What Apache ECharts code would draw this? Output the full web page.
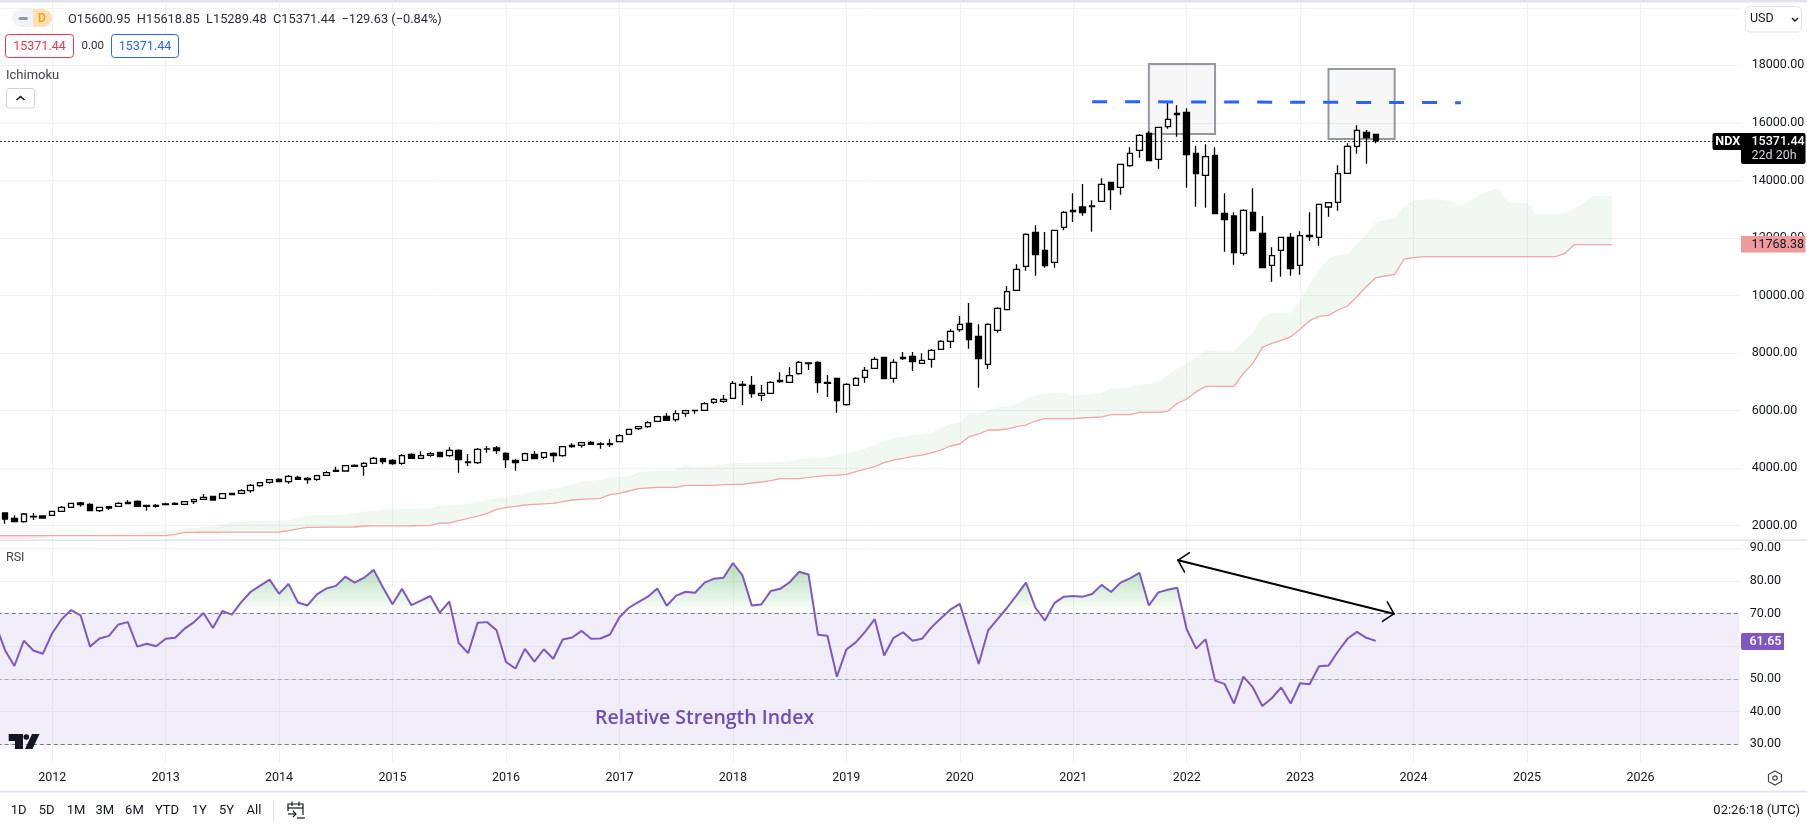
<!DOCTYPE html>
<html>
<head>
<meta charset="utf-8">
<style>html,body{margin:0;padding:0;background:#fff;overflow:hidden}#c{width:1807px;height:830px}</style>
<script src="https://cdn.jsdelivr.net/npm/echarts@6/dist/echarts.min.js"></script>
</head>
<body>
<div id="c"></div>
<script>
// Monthly bars, first bar Jul 2011 (just off the left edge), last bar Sep 2023
const candleOpen = [2330,
2441,2256,2140,2310,2337,2360,2499,2638,2789,2743,
2522,2661,2673,2812,2847,2708,2708,2754,2777,2743,
2835,2916,3021,2951,3125,3125,3217,3391,3507,3611,
3530,3681,3646,3611,3750,3924,3901,4098,4063,4167,
4329,4272,4167,4480,4341,4445,4550,4434,4619,4214,
4191,4660,4700,4515,4272,4272,4480,4376,4515,4434,
4793,4793,4897,4830,4851,4920,5175,5372,5441,5627,
5800,5685,5905,6000,6009,6287,6322,6426,6913,6878,
6530,6600,7052,6982,7283,7631,7677,6982,7121,6206,
6878,7156,7469,7851,7121,7851,7886,7642,7781,8129,
8407,8812,9032,8581,7608,8789,9507,10180,11014,12195,
11570,11153,12369,12960,13075,13087,13272,13933,13759,14512,
15045,15636,14732,15867,16331,16365,14941,14176,14871,12855,
12763,11465,12890,12160,11048,11570,12021,11048,12091,12021,
13075,13238,14245,15184,15670,15600.95];
const candleClose = [2441,
2233,2140,2407,2320,2268,2499,2638,2777,2731,2522,
2638,2615,2777,2766,2673,2673,2673,2731,2743,2835,
2905,2986,2893,3113,3078,3217,3403,3495,3600,3530,
3715,3611,3600,3739,3843,3889,4086,4063,4167,4341,
4225,4156,4434,4341,4434,4503,4399,4619,4295,4191,
4654,4670,4607,4295,4191,4503,4329,4538,4434,4747,
4747,4886,4828,4840,4816,5129,5349,5441,5580,5789,
5661,5893,5998,6009,6241,6391,6391,6947,6878,6588,
6600,6982,7005,7214,7677,7654,6970,6947,6345,6913,
7121,7399,7781,7110,7677,7805,7700,7747,8094,8407,
8754,8998,8465,7805,8998,9554,10133,10909,12126,11419,
11037,12265,12890,12913,12879,13110,13863,13678,14558,14941,
15566,14686,15844,16122,16284,14894,14234,14825,12844,12635,
11489,12960,12253,10967,11384,12021,10932,12079,12045,13168,
13226,14234,15184,15740,15485,15371.44];
const candleLow = [2300,
2071,2140,2105,2198,2244,2360,2499,2627,2661,2511,
2476,2546,2661,2766,2661,2522,2627,2719,2731,2731,
2754,2916,2870,2951,3078,3113,3148,3357,3461,3507,
3461,3600,3461,3565,3739,3878,3889,4052,3739,4156,
4133,4121,4121,4329,4329,4399,4387,4399,3843,4075,
4144,4538,4492,4005,3913,4260,4318,4318,4214,4399,
4712,4712,4805,4677,4735,4897,5175,5326,5407,5615,
5650,5615,5789,5893,5998,6241,6275,6414,6194,6449,
6333,6588,6970,6970,7249,7411,6623,6472,5928,6171,
6866,6970,7457,7098,6970,7758,7376,7631,7492,8117,
8175,8743,8152,6797,7445,8708,9496,10170,10863,10689,
10967,10967,12265,12554,12774,12218,13261,12971,13504,14477,
14790,14674,14408,15798,15520,13747,13087,13052,12844,11523,
11071,11384,12241,10967,10481,10654,10689,10724,11894,11732,
12740,12948,14234,14929,14581,15289.48];
const candleHigh = [2470,
2441,2360,2441,2441,2360,2499,2685,2800,2823,2777,
2650,2685,2812,2881,2881,2708,2754,2800,2812,2847,
2939,3102,3044,3125,3148,3264,3449,3519,3623,3646,
3762,3739,3692,3773,3889,4052,4109,4133,4202,4387,
4364,4306,4492,4515,4584,4561,4573,4723,4654,4492,
4700,4770,4770,4550,4306,4538,4596,4561,4550,4770,
4862,4897,4943,4897,5001,5187,5372,5453,5627,5824,
5916,6009,6021,6009,6287,6426,6542,7028,7028,7202,
6889,7017,7330,7515,7723,7677,7712,7237,7133,6947,
7156,7515,7862,7862,7781,8036,8036,7990,8140,8442,
8824,9287,9739,8998,9032,9589,10330,11083,12160,12438,
12207,12276,12925,13550,13875,13307,14072,13944,14558,15149,
15612,15705,15844,16759,16609,16505,15195,15253,15149,13550,
12890,12994,13724,12763,11674,12033,12172,12230,12890,13168,
13226,14524,15288,15914,15752,15618.85];
// Ichimoku cloud boundaries (run 25 bars past the last candle)
const spanA = [1525,
1530,1530,1535,1550,1590,1655,1670,1680,1688,1695,
1700,1705,1715,1725,1735,1760,1800,1827,1860,1897,
1920,1945,1966,2050,2128,2140,2152,2160,2170,2178,
2186,2270,2360,2365,2370,2372,2400,2441,2488,2530,
2569,2575,2585,2590,2597,2603,2696,2710,2730,2754,
2820,2893,2950,3009,3070,3125,3180,3241,3290,3333,
3430,3530,3560,3588,3680,3690,3727,3855,3878,3912,
3912,3947,4109,4051,4075,4086,4133,4179,4190,4202,
4202,4202,4214,4237,4306,4341,4364,4376,4468,4515,
4596,4677,4793,4943,5036,5094,5152,5180,5210,5407,
5534,5592,5905,5905,6009,6114,6137,6229,6403,6542,
6588,6600,6611,6519,6542,6577,6623,6762,6774,6808,
6913,6913,6994,7237,7469,7642,7874,8106,8060,8060,
8060,8395,8720,9264,9403,9403,9403,9820,10400,10886,
11292,11407,11442,11790,12102,12554,12624,12682,13110,13307,
13319,13342,13330,13272,13122,13319,13516,13632,13724,13238,
13226,13203,12844,12844,12844,12844,13018,13226,13458,13458,13458];
const spanB = [1653,
1653,1653,1653,1653,1653,1653,1653,1653,1653,1653,
1653,1653,1653,1653,1653,1653,1653,1653,1700,1769,
1770,1772,1773,1775,1776,1777,1778,1779,1780,1781,
1830,1890,1943,1945,1948,1950,1952,1955,1990,1992,
1994,1996,1997,1998,2000,2001,2094,2094,2175,2255,
2335,2418,2569,2627,2673,2719,2740,2760,2777,2835,
2893,2915,2935,2951,3078,3125,3206,3287,3310,3333,
3333,3333,3403,3403,3403,3403,3426,3437,3437,3484,
3519,3565,3634,3634,3634,3681,3715,3750,3750,3785,
3878,3970,4051,4190,4283,4341,4411,4450,4530,4630,
4770,4839,5094,5187,5326,5326,5360,5441,5499,5638,
5720,5720,5720,5720,5743,5766,5778,5858,5858,5858,
5940,5940,5940,5974,6252,6403,6658,6843,6843,6843,
6843,7295,7642,8198,8338,8442,8569,8824,9125,9276,
9311,9496,9635,9959,10307,10619,10678,10736,11268,11315,
11349,11349,11349,11349,11349,11349,11349,11349,11349,11349,
11349,11349,11349,11349,11349,11465,11768.38,11768.38,11768.38,11768.38,11768.38];
const rsiValues = [66.8,
58.9,54.0,61.7,58.7,57.7,64.0,68.3,71.1,69.5,59.9,
62.4,63.2,66.7,67.4,59.9,60.8,60.0,62.3,62.6,65.4,
67.4,70.2,65.6,70.8,69.7,73.5,76.7,78.6,80.4,76.1,
79.1,73.4,72.5,75.9,77.7,78.5,81.3,79.5,81.0,83.4,
77.9,72.9,77.6,72.6,74.0,75.4,70.3,73.7,61.0,57.9,
67.2,67.4,64.9,55.2,53.2,59.2,55.3,59.1,56.2,62.1,
62.7,64.7,62.3,62.4,63.6,68.9,71.8,73.5,75.2,77.7,
72.4,75.5,76.7,76.4,79.5,80.7,81.0,85.5,81.8,72.5,
72.8,76.9,77.6,79.6,82.8,82.0,63.5,63.2,50.7,59.0,
61.2,64.5,68.3,57.2,62.6,64.3,61.7,62.3,65.8,68.6,
71.2,73.0,63.6,54.6,64.9,68.3,71.8,75.6,79.5,71.8,
67.9,73.2,75.2,75.4,75.2,76.0,78.8,76.6,79.5,80.8,
82.5,72.5,76.5,77.3,77.9,65.2,59.3,62.2,49.5,48.5,
42.5,50.7,47.4,41.7,44.1,47.4,42.5,48.7,48.4,53.9,
54.1,58.4,62.3,64.4,62.6,61.65];
const priceTicks = {min:0,max:20000,step:2000};
const rsiTicks = {min:30,max:90,step:10};
const lastClose = 15371.44;
const lastRsi = 61.65;

// Category axis: Jul 2011 .. Nov 2026
const months = [];
for (let k = 0; k < 185; k++) {
  const t = 2011*12 + 6 + k;
  months.push(Math.floor(t/12) + '-' + String(t%12+1).padStart(2,'0'));
}
const isJan = (i, v) => String(v).endsWith('-01');
const candles = candleOpen.map((o,i)=>[o,candleClose[i],candleLow[i],candleHigh[i]]);
const n = spanA.length;
const greenBase=[],greenDiff=[],pinkBase=[],pinkDiff=[];
for (let i=0;i<n;i++){
  const up = spanA[i]>=spanB[i];
  greenBase.push(up?spanB[i]:null); greenDiff.push(up?spanA[i]-spanB[i]:null);
  const dn = i<=6;
  pinkBase.push(dn?Math.min(spanA[i],spanB[i]):null); pinkDiff.push(dn?Math.abs(spanB[i]-spanA[i]):null);
}
const FONT='Roboto, sans-serif';
const TXT='#131722';
const chevron='path://M10.5 10.5 L21 20.4 L20 21.5 L10.5 12.6 L1 21.5 L0 20.4 Z M10.5 0 L10.6 0 L10.5 0.1 Z';
const gridLine='#f0f1f5';
const cl = months;
const GL=-9.25, GW=1749;
function hiddenX(g){return {type:'category',gridIndex:g,data:cl,show:false,boundaryGap:true};}

const txt=(x,y,text,o={})=>({type:'text',x,y,z:o.z||120,silent:true,style:Object.assign({text,font:(o.w||'400')+' '+(o.s||12)+'px '+(o.f||FONT),fill:o.c||TXT,align:o.a||'left',verticalAlign:'middle'},{})});
const rect=(x,y,w,h,o={})=>({type:'rect',z:o.z||110,silent:true,shape:{x,y,width:w,height:h,r:o.r||0},style:{fill:o.fill||'#fff',stroke:o.stroke||null,lineWidth:o.lw||1}});
const poly=(pts,c,lw,z)=>({type:'polyline',z:z||120,silent:true,shape:{points:pts},style:{stroke:c,lineWidth:lw,fill:null}});

const graphics=[
 rect(0,0,1807,2.5,{fill:'#e0e3eb',z:90}),
 rect(0,539.5,1807,1.6,{fill:'#e0e3eb',z:90}),
 rect(0,790.8,1807,1.6,{fill:'#e0e3eb',z:90}),
 // legend pill
 rect(12,9,21,18,{fill:'#f0f3fa',r:[9,0,0,9]}),
 rect(33,9,19,18,{fill:'#ffe0b2',r:[0,9,9,0]}),
 rect(18.5,17,9.5,3,{fill:'#9598a1',r:1.5}),
 txt(42,18.5,'D',{c:'#ff9800',a:'center',s:12,w:'500'}),
 txt(68,19.5,'O15600.95  H15618.85  L15289.48  C15371.44  \u2212129.63 (\u22120.84%)',{s:12.8,c:'#2a2e39'}),
 rect(5.5,34.5,68,23,{fill:'#fff',stroke:'#f23645',r:3}),
 txt(39.5,46.5,'15371.44',{a:'center',c:'#f23645',s:12.5}),
 txt(81.5,46,'0.00',{s:11.5,c:'#2a2e39'}),
 rect(111.5,34.5,67,23,{fill:'#fff',stroke:'#2962ff',r:3}),
 txt(145,46.5,'15371.44',{a:'center',c:'#2962ff',s:12.5}),
 txt(6,76,'Ichimoku',{s:13,c:'#434651'}),
 rect(6.5,88.5,28,19.5,{fill:'#fff',stroke:'#d1d4dc',r:2.5}),
 poly([[16.5,100],[20.5,96.5],[24.5,100]],'#131722',1.6),
 // currency selector
 rect(1745.5,6.5,56,25.5,{fill:'#fff',stroke:'#e0e3eb',r:5}),
 txt(1750,19,'USD',{s:12.5}),
 poly([[1792,18],[1795,21],[1798,18]],'#131722',1.4),
 // last price labels
 rect(1712.5,133,30.5,17,{fill:'#000',r:[2,0,0,2]}),
 txt(1727.7,141.8,'NDX',{a:'center',c:'#fff',w:'700',s:12.5}),
 rect(1741,133,64.5,31,{fill:'#000',r:2}),
 txt(1751.5,142,'15371.44',{c:'#fff',w:'500',s:12.5}),
 txt(1751.5,156,'22d 20h',{c:'#d1d4dc',s:12.5}),
 rect(1741,236,64.5,16.5,{fill:'#ef9a9a'}),
 txt(1751.5,244.5,'11768.38',{c:'#131722',s:12.5}),
 rect(1741,633,43,17,{fill:'#7e57c2',r:[2,0,0,2]}),
 txt(1749.5,641.7,'61.65',{c:'#fff',w:'500',s:12.5}),
 // pane titles and captions
 txt(6,558,'RSI',{s:12.5,c:'#434651'}),
 txt(595,718,'Relative Strength Index',{s:19.5,w:'600',c:'#6f4bbd',f:'"Open Sans", sans-serif'}),
 // watermark logo
 {type:'polygon',z:120,silent:true,shape:{points:[[8.7,734],[23,734],[23,749],[15,749],[15,741],[8.7,741]]},style:{fill:'#131722'}},
 {type:'circle',z:120,silent:true,shape:{cx:26.3,cy:737,r:2.8},style:{fill:'#131722'}},
 {type:'polygon',z:120,silent:true,shape:{points:[[32,734],[39.5,734],[32.5,749],[25,749]]},style:{fill:'#131722'}},
 // range buttons
 ...[['1D',18.6],['5D',46.7],['1M',76],['3M',104.8],['6M',134.4],['YTD',167],['1Y',199.3],['5Y',226.6],['All',254]]
   .map(([t,x])=>txt(x,811,t,{a:'center',s:13})),
 rect(273,800,1,22,{fill:'#e0e3eb'}),
 // calendar icon
 poly([[303,815],[303,804],[288,804],[288,811]],'#131722',1.2),
 poly([[288,808],[303,808]],'#131722',1.2),
 poly([[292,801.5],[292,806]],'#131722',1.2),
 poly([[299,801.5],[299,806]],'#131722',1.2),
 poly([[305,818],[297,818]],'#131722',1.2),
 poly([[288,814],[296,814]],'#131722',1.2),
 poly([[293,811],[296,814],[293,817]],'#131722',1.2),
 txt(1800,811,'02:26:18 (UTC)',{a:'right',s:13}),
 // settings icon
 {type:'polygon',z:120,silent:true,shape:{points:[[1775,771],[1781.5,774.5],[1781.5,781.5],[1775,785],[1768.5,781.5],[1768.5,774.5]]},style:{fill:'#fff',stroke:'#434651',lineWidth:1.2}},
 {type:'circle',z:120,silent:true,shape:{cx:1775,cy:778,r:2.2},style:{fill:'#fff',stroke:'#434651',lineWidth:1.2}}
];

const option={
 animation:false,
 backgroundColor:'#fff',
 grid:[
  {left:GL,width:GW,top:2,height:761,containLabel:false,outerBoundsMode:'none'},
  {left:GL,width:GW,top:7.75,height:575.5,outerBoundsMode:'none'},
  {left:GL,width:GW,top:548.3,height:196,outerBoundsMode:'none'},
  {left:GL,width:GW,top:548.3,height:65.33,outerBoundsMode:'none'}
 ],
 xAxis:[
  {type:'category',gridIndex:0,data:cl,boundaryGap:true,
   axisLine:{show:false},axisTick:{show:false},
   axisLabel:{interval:isJan,formatter:v=>v.slice(0,4),color:TXT,fontFamily:FONT,fontSize:12.5,margin:8,hideOverlap:false},
   splitLine:{show:true,interval:isJan,alignWithLabel:true,lineStyle:{color:gridLine,width:1}}},
  hiddenX(1),hiddenX(2),hiddenX(3)
 ],
 yAxis:[
  {type:'value',gridIndex:0,show:false,min:0,max:1,splitLine:{show:false}},
  {type:'value',gridIndex:1,position:'right',min:priceTicks.min,max:priceTicks.max,interval:priceTicks.step,
   axisLine:{show:false},axisTick:{show:false},
   axisLabel:{show:true,margin:12,padding:[3,0,0,0],color:TXT,fontFamily:FONT,fontSize:12.5,formatter:v=>v.toFixed(2),showMinLabel:false,showMaxLabel:false},
   splitLine:{show:true,showMinLine:false,lineStyle:{color:gridLine,width:1}}},
  {type:'value',gridIndex:2,position:'right',min:rsiTicks.min,max:rsiTicks.max,interval:rsiTicks.step,
   axisLine:{show:false},axisTick:{show:false},
   axisLabel:{show:true,margin:10,padding:[3,0,0,0],color:TXT,fontFamily:FONT,fontSize:12.5,formatter:v=>v.toFixed(2)},
   splitLine:{show:true,lineStyle:{color:gridLine,width:1}}},
  {type:'value',gridIndex:3,show:false,min:70,max:90,splitLine:{show:false}}
 ],
 series:[
  {name:'base',type:'line',xAxisIndex:0,yAxisIndex:0,data:[],silent:true},
  // pink part of the cloud
  {type:'line',xAxisIndex:1,yAxisIndex:1,stack:'pink',data:pinkBase,showSymbol:false,lineStyle:{opacity:0},silent:true,z:1},
  {type:'line',xAxisIndex:1,yAxisIndex:1,stack:'pink',data:pinkDiff,showSymbol:false,lineStyle:{opacity:0},areaStyle:{color:'rgba(242,54,69,0.13)'},silent:true,z:1},
  // green part of the cloud
  {type:'line',xAxisIndex:1,yAxisIndex:1,stack:'green',data:greenBase,showSymbol:false,lineStyle:{opacity:0},silent:true,z:1},
  {type:'line',xAxisIndex:1,yAxisIndex:1,stack:'green',data:greenDiff,showSymbol:false,lineStyle:{opacity:0},areaStyle:{color:'rgba(67,160,71,0.115)'},silent:true,z:1},
  // lower boundary
  {type:'line',xAxisIndex:1,yAxisIndex:1,data:spanB,showSymbol:false,lineStyle:{color:'#f4a5a5',width:1.3},silent:true,z:2},
  // candles
  {type:'candlestick',xAxisIndex:1,yAxisIndex:1,data:candles,barWidth:6,silent:true,z:3,
   itemStyle:{color:'#ffffff',color0:'#000000',borderColor:'#000000',borderColor0:'#000000',borderWidth:1.3},
   markArea:{silent:true,
    itemStyle:{color:'rgba(149,152,161,0.08)',borderColor:'#9598a1',borderWidth:2},
    label:{show:false},
    data:[[{coord:[122,18045]},{coord:[129,15612]}],[{coord:[141,17871]},{coord:[148,15439]}]]},
   markLine:{silent:true,symbol:'none',label:{show:false},animation:false,
    data:[
     [{coord:[116,16736],lineStyle:{color:'#2962ff',width:3,type:[15,18]}},{coord:[155,16701]}],
     [{yAxis:lastClose,x:0.2,lineStyle:{color:'#000',width:1.2,type:[1.5,2.5]}},{yAxis:lastClose,x:1739.7}]
    ]}},
  // RSI
  {type:'line',xAxisIndex:2,yAxisIndex:2,data:rsiValues,showSymbol:false,silent:true,z:4,
   lineStyle:{color:'#7e57c2',width:2},
   markArea:{silent:true,itemStyle:{color:'rgba(126,87,194,0.1)'},label:{show:false},data:[[{yAxis:70},{yAxis:30}]]},
   markLine:{silent:true,symbol:'none',label:{show:false},animation:false,
    data:[
     {yAxis:70,lineStyle:{color:'#787b86',width:1,type:[4,3]}},
     {yAxis:50,lineStyle:{color:'rgba(120,123,134,0.6)',width:1,type:[4,3]}},
     {yAxis:30,lineStyle:{color:'#787b86',width:1,type:[4,3]}},
     [{coord:[125,86.4],symbol:chevron,symbolSize:22,lineStyle:{color:'#000',width:2,type:'solid'},itemStyle:{color:'#000'}},
      {coord:[148,69.9],symbol:chevron,symbolSize:22,itemStyle:{color:'#000'}}]
    ]}},
  // overbought fill, clipped to the part of the pane above 70
  {type:'line',xAxisIndex:3,yAxisIndex:3,data:rsiValues,showSymbol:false,silent:true,z:3,clip:true,
   lineStyle:{opacity:0},
   areaStyle:{origin:'start',color:new echarts.graphic.LinearGradient(0,548,0,613.5,[{offset:0,color:'rgba(76,175,80,0.8)'},{offset:1,color:'rgba(76,175,80,0)'}],true)}}
 ],
 graphic:{elements:graphics}
};
const chart=echarts.init(document.getElementById('c'),null,{renderer:'canvas',width:1807,height:830});
chart.setOption(option);
</script>
</body>
</html>
